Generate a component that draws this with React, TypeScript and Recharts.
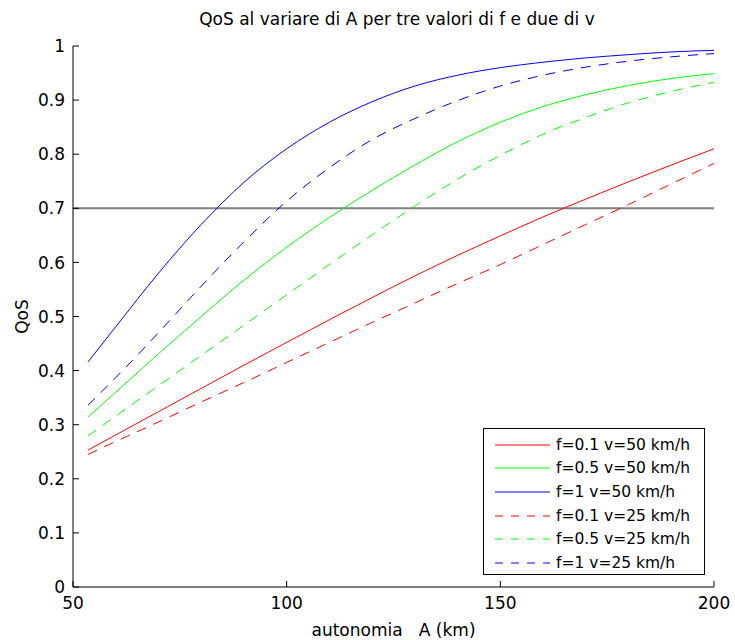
import React from "react";
import { LineChart, Line, XAxis, YAxis, ReferenceLine, Legend, Label } from "recharts";

// autonomia A (km)
const aValues = [53.5, 60, 70, 80, 90, 100, 110, 120, 130, 140, 150, 160, 170, 180, 190, 200];

// QoS per (f, v)
const qosF01V50 = [0.253, 0.281, 0.324, 0.367, 0.41, 0.452, 0.494, 0.535, 0.575, 0.613, 0.649, 0.684, 0.717, 0.749, 0.78, 0.81];
const qosF05V50 = [0.314, 0.36, 0.431, 0.5, 0.567, 0.628, 0.683, 0.733, 0.78, 0.823, 0.859, 0.888, 0.91, 0.927, 0.94, 0.949];
const qosF1V50 = [0.416, 0.481, 0.58, 0.67, 0.748, 0.81, 0.859, 0.897, 0.926, 0.946, 0.96, 0.97, 0.978, 0.984, 0.989, 0.992];
const qosF01V25 = [0.245, 0.269, 0.305, 0.342, 0.378, 0.415, 0.452, 0.489, 0.525, 0.561, 0.596, 0.633, 0.67, 0.707, 0.745, 0.783];
const qosF05V25 = [0.279, 0.316, 0.372, 0.428, 0.484, 0.54, 0.596, 0.651, 0.704, 0.754, 0.798, 0.837, 0.868, 0.895, 0.916, 0.933];
const qosF1V25 = [0.336, 0.387, 0.47, 0.556, 0.638, 0.713, 0.775, 0.827, 0.866, 0.899, 0.926, 0.946, 0.961, 0.972, 0.98, 0.986];

const seriesNames = [
  "f=0.1 v=50 km/h",
  "f=0.5 v=50 km/h",
  "f=1 v=50 km/h",
  "f=0.1 v=25 km/h",
  "f=0.5 v=25 km/h",
  "f=1 v=25 km/h",
];

const xTicks = [50, 100, 150, 200];
const yTicks = [0, 0.1, 0.2, 0.3, 0.4, 0.5, 0.6, 0.7, 0.8, 0.9, 1];
const soglia = 0.7;

const title = "QoS al variare di A per tre valori di f e due di v";

const data = aValues.map((a, i) => ({
  a,
  s0: qosF01V50[i],
  s1: qosF05V50[i],
  s2: qosF1V50[i],
  s3: qosF01V25[i],
  s4: qosF05V25[i],
  s5: qosF1V25[i],
}));

const series = [
  { key: "s0", color: "#ff0000", dashed: false },
  { key: "s1", color: "#00ff00", dashed: false },
  { key: "s2", color: "#0000ff", dashed: false },
  { key: "s3", color: "#ff0000", dashed: true },
  { key: "s4", color: "#00ff00", dashed: true },
  { key: "s5", color: "#0000ff", dashed: true },
];

const FONT = 17;

const XTickBottom = (props: any) => {
  const { x, y, payload } = props;
  return (
    <g>
      <line x1={x} y1={y} x2={x} y2={y - 6} stroke="#000" />
      <text x={x} y={y + 22} textAnchor="middle" fontSize={FONT} fill="#000">
        {payload.value}
      </text>
    </g>
  );
};

const XTickTop = (props: any) => {
  const { x, y } = props;
  return <line x1={x} y1={y} x2={x} y2={y + 6} stroke="#000" />;
};

const YTickLeft = (props: any) => {
  const { x, y, payload } = props;
  return (
    <g>
      <line x1={x} y1={y} x2={x + 6} y2={y} stroke="#000" />
      <text x={x - 8} y={y} dy="0.36em" textAnchor="end" fontSize={FONT} fill="#000">
        {String(payload.value)}
      </text>
    </g>
  );
};

const YTickRight = (props: any) => {
  const { x, y } = props;
  return <line x1={x} y1={y} x2={x - 6} y2={y} stroke="#000" />;
};

const renderLegend = () => (
  <div
    style={{
      width: 222,
      height: 147,
      boxSizing: "border-box",
      border: "1px solid #000",
      background: "#fff",
      paddingTop: 4,
      fontSize: 15.5,
      color: "#000",
    }}
  >
    {series.map((s, i) => (
      <div key={s.key} style={{ height: 23.6, display: "flex", alignItems: "center" }}>
        <svg width={68} height={10} style={{ flex: "none" }}>
          <line
            x1={11}
            y1={5}
            x2={66}
            y2={5}
            stroke={s.color}
            strokeWidth={1}
            strokeDasharray={s.dashed ? "8 8" : undefined}
          />
        </svg>
        <span style={{ marginLeft: 4, whiteSpace: "nowrap" }}>{seriesNames[i]}</span>
      </div>
    ))}
  </div>
);

export default function App() {
  return (
    <div
      style={{
        position: "absolute",
        left: 0,
        top: 0,
        width: 735,
        height: 640,
        background: "#fff",
        fontFamily: "'DejaVu Sans', sans-serif",
      }}
    >
      <div
        style={{
          position: "absolute",
          left: 0,
          top: 9,
          width: 794,
          textAlign: "center",
          fontSize: FONT,
          color: "#000",
        }}
      >
        {title}
      </div>
      <LineChart
        width={735}
        height={640}
        data={data}
        margin={{ top: 46, right: 21, bottom: 0, left: 0 }}
      >
        <XAxis
          dataKey="a"
          type="number"
          domain={[50, 200]}
          ticks={xTicks}
          interval={0}
          height={53}
          axisLine={{ stroke: "#000" }}
          tickLine={false}
          tickSize={0}
          tickMargin={0}
          tick={<XTickBottom />}
        >
          <Label
            value={"autonomia\u00A0\u00A0\u00A0A (km)"}
            position="insideBottom"
            offset={4}
            style={{ fontSize: FONT, fill: "#000" }}
          />
        </XAxis>
        <XAxis
          xAxisId="top"
          orientation="top"
          dataKey="a"
          type="number"
          domain={[50, 200]}
          ticks={xTicks}
          interval={0}
          height={0}
          axisLine={{ stroke: "#000" }}
          tickLine={false}
          tickSize={0}
          tickMargin={0}
          tick={<XTickTop />}
        />
        <YAxis
          type="number"
          domain={[0, 1]}
          ticks={yTicks}
          interval={0}
          width={73}
          axisLine={{ stroke: "#000" }}
          tickLine={false}
          tickSize={0}
          tickMargin={0}
          tick={<YTickLeft />}
        >
          <Label
            value="QoS"
            angle={-90}
            position="insideLeft"
            offset={22}
            style={{ fontSize: FONT, fill: "#000", textAnchor: "middle" }}
          />
        </YAxis>
        <YAxis
          yAxisId="right"
          orientation="right"
          type="number"
          domain={[0, 1]}
          ticks={yTicks}
          interval={0}
          width={0}
          axisLine={{ stroke: "#000" }}
          tickLine={false}
          tickSize={0}
          tickMargin={0}
          tick={<YTickRight />}
        />
        <ReferenceLine y={soglia} stroke="#808080" strokeWidth={2} />
        {series.map((s) => (
          <Line
            key={s.key}
            dataKey={s.key}
            type="monotone"
            stroke={s.color}
            strokeWidth={1}
            strokeDasharray={s.dashed ? "10 8" : undefined}
            dot={false}
            activeDot={false}
            isAnimationActive={false}
          />
        ))}
        <Legend
          content={renderLegend}
          layout="vertical"
          align="center"
          verticalAlign="middle"
          wrapperStyle={{ left: 483, top: 428, width: 222, height: 147 }}
        />
      </LineChart>
    </div>
  );
}
